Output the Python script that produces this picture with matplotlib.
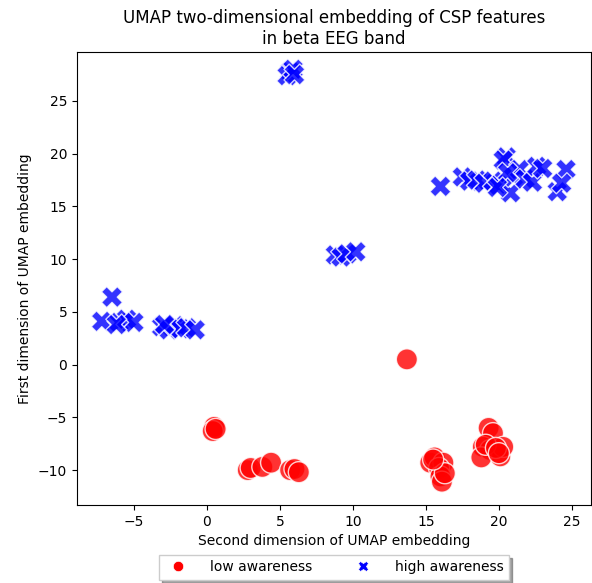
import numpy as np
import pandas as pd
import matplotlib
matplotlib.use("Agg")
import matplotlib.pyplot as plt
from matplotlib.lines import Line2D
import seaborn as sns

# UMAP coordinates (x = second dim, y = first dim)
low_x = [13.7, 0.5, 0.4, 0.6, 2.8, 3.0, 3.8, 4.4, 5.7, 6.0, 6.3,
         15.3, 15.6, 16.2, 15.9, 16.0, 16.1, 16.3, 15.5,
         19.3, 19.6, 18.9, 19.4, 20.1, 20.3, 18.8, 19.1, 19.8, 20.0]
low_y = [0.5, -5.9, -6.3, -6.1, -10.0, -9.8, -9.7, -9.3, -10.0, -9.9, -10.2,
         -9.3, -8.8, -9.3, -9.8, -10.6, -11.1, -10.3, -9.0,
         -6.0, -6.5, -7.8, -8.1, -8.7, -7.8, -8.8, -7.6, -7.9, -8.4]

high_x = [5.7, 5.5, 5.9, 6.0,
          8.8, 9.2, 9.6, 10.2,
          -6.5, -7.2, -6.0, -5.5, -5.0, -6.2,
          -3.1, -2.6, -2.2, -1.8, -1.4, -0.8, -2.9,
          16.0, 17.5, 18.0, 18.5, 19.0, 19.6, 20.0, 20.5, 20.3, 20.8,
          21.0, 21.4, 21.8, 22.3, 22.6, 23.0, 24.6, 24.0, 24.3, 20.6, 19.9]
high_y = [27.8, 27.4, 28.0, 27.5,
          10.4, 10.2, 10.5, 10.7,
          6.4, 4.1, 4.0, 4.3, 4.0, 3.8,
          3.6, 3.3, 3.7, 3.4, 3.5, 3.3, 3.8,
          16.9, 17.8, 17.4, 17.5, 17.2, 17.4, 17.0, 19.7, 19.4, 16.3,
          17.8, 18.5, 17.6, 17.3, 18.8, 18.6, 18.5, 16.4, 17.2, 18.2, 16.8]

labels = ["low awareness", "high awareness"]

df = pd.DataFrame({
    "x": low_x + high_x,
    "y": low_y + high_y,
    "label": [labels[0]] * len(low_x) + [labels[1]] * len(high_x),
})

fig, ax = plt.subplots(figsize=(5.92, 5.83), dpi=100)
sns.scatterplot(data=df, x="x", y="y", hue="label", style="label",
                palette={labels[0]: "red", labels[1]: "blue"},
                markers={labels[0]: "o", labels[1]: "X"},
                s=230, alpha=0.8, edgecolor="white", linewidth=1,
                legend=False, ax=ax)

ax.set_xlim(-8.9, 26.3)
ax.set_ylim(-13.3, 29.6)
ax.set_xlabel("Second dimension of UMAP embedding")
ax.set_ylabel("First dimension of UMAP embedding")
ax.set_title("UMAP two-dimensional embedding of CSP features\nin beta EEG band")

handles = [
    Line2D([], [], marker="o", color="red", linestyle="none", markersize=7.5,
           markeredgecolor="white", markeredgewidth=0.5),
    Line2D([], [], marker="X", color="blue", linestyle="none", markersize=7.5,
           markeredgecolor="white", markeredgewidth=0.5),
]
ax.legend(handles, labels, loc="upper center", bbox_to_anchor=(0.5, -0.095),
          ncol=2, shadow=True, fancybox=False, columnspacing=2.6,
          handletextpad=1.3)

plt.subplots_adjust(left=0.13, right=0.998, top=0.91, bottom=0.134)
plt.savefig("out.png", dpi=100)
